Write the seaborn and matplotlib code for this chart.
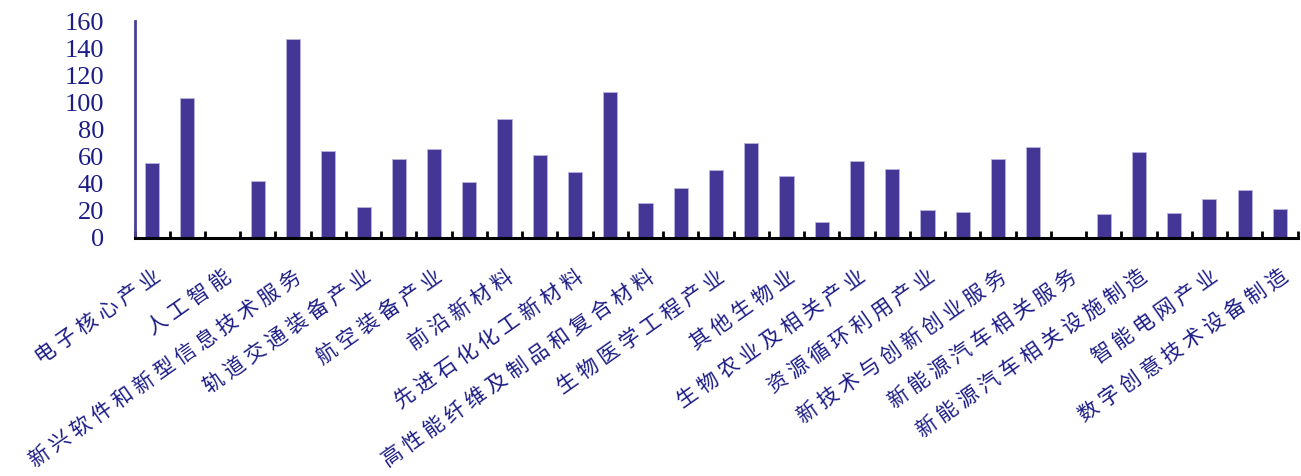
import matplotlib
matplotlib.use("Agg")
import matplotlib.pyplot as plt
import seaborn as sns
import pandas as pd
import numpy as np

categories = [
    "电子核心产业", "下一代信息网络产业", "人工智能", "互联网与云计算大数据服务",
    "新兴软件和新型信息技术服务", "智能制造装备产业", "轨道交通装备产业", "卫星及应用产业",
    "航空装备产业", "海洋工程装备产业", "前沿新材料", "先进钢铁材料",
    "先进石化化工新材料", "先进有色金属材料", "高性能纤维及制品和复合材料", "生物医药产业",
    "生物医学工程产业", "先进无机非金属材料", "其他生物业", "生物质能产业",
    "生物农业及相关产业", "高效节能产业", "资源循环利用产业", "先进环保产业",
    "新技术与创新创业服务", "新能源汽车整车制造", "新能源汽车相关服务", "新能源汽车装置配件制造",
    "新能源汽车相关设施制造", "太阳能产业", "智能电网产业", "数字文化创意活动",
    "数字创意技术设备制造",
]
values = [
    55, 103, 0, 42, 147, 64, 22.5, 58.5, 65.5, 41, 88, 61, 49, 108, 26, 37,
    50, 70, 46, 11.8, 57, 51, 20.8, 19.3, 58, 67, 0, 17.6, 63.5, 18.8, 29, 35.2, 21.5,
]
yticks = [0, 20, 40, 60, 80, 100, 120, 140, 160]

bar_color = "#433694"
axis_color = "#4a3f98"
text_color = "#1c1c86"

sns.set_theme(style="white")
plt.rcParams["font.family"] = ["Noto Sans CJK SC", "DejaVu Sans"]

df = pd.DataFrame({"cat": categories, "val": values})

fig = plt.figure(figsize=(13.01, 4.76), dpi=100)
ax = fig.add_axes([134.5 / 1301, 1 - 238 / 476, (1297.5 - 134.5) / 1301, (238 - 21) / 476])

sns.barplot(data=df, x="cat", y="val", color=bar_color, width=0.4, saturation=1,
            edgecolor="#b9b3e0", linewidth=0.6, ax=ax)

ax.set_xlim(-0.5, len(categories) - 0.5)
ax.set_ylim(0, 160)
ax.set_xlabel("")
ax.set_ylabel("")

for s in ["top", "right"]:
    ax.spines[s].set_visible(False)
ax.spines["left"].set_color(axis_color)
ax.spines["left"].set_linewidth(2)
ax.spines["bottom"].set_color("black")
ax.spines["bottom"].set_linewidth(2.2)

ax.set_yticks(yticks)
ax.set_yticklabels([str(v) for v in yticks], family=["Liberation Serif"], fontsize=19, color=text_color)
ax.tick_params(axis="y", direction="in", length=6, width=2, color=axis_color, pad=22)

pos = np.arange(len(categories))
ax.set_xticks(pos)
labels = [" ".join(c) if i % 2 == 0 else "" for i, c in enumerate(categories)]
ax.set_xticklabels(labels, rotation=35, ha="right", rotation_mode="anchor",
                   fontsize=15, color=text_color)
ax.tick_params(axis="x", which="major", length=0, pad=20)
ax.set_xticks(np.arange(-0.5, len(categories), 1.0), minor=True)
ax.tick_params(axis="x", which="minor", direction="in", length=5, width=2, color="black", bottom=True)

fig.savefig("out.png", dpi=100, facecolor="white")
